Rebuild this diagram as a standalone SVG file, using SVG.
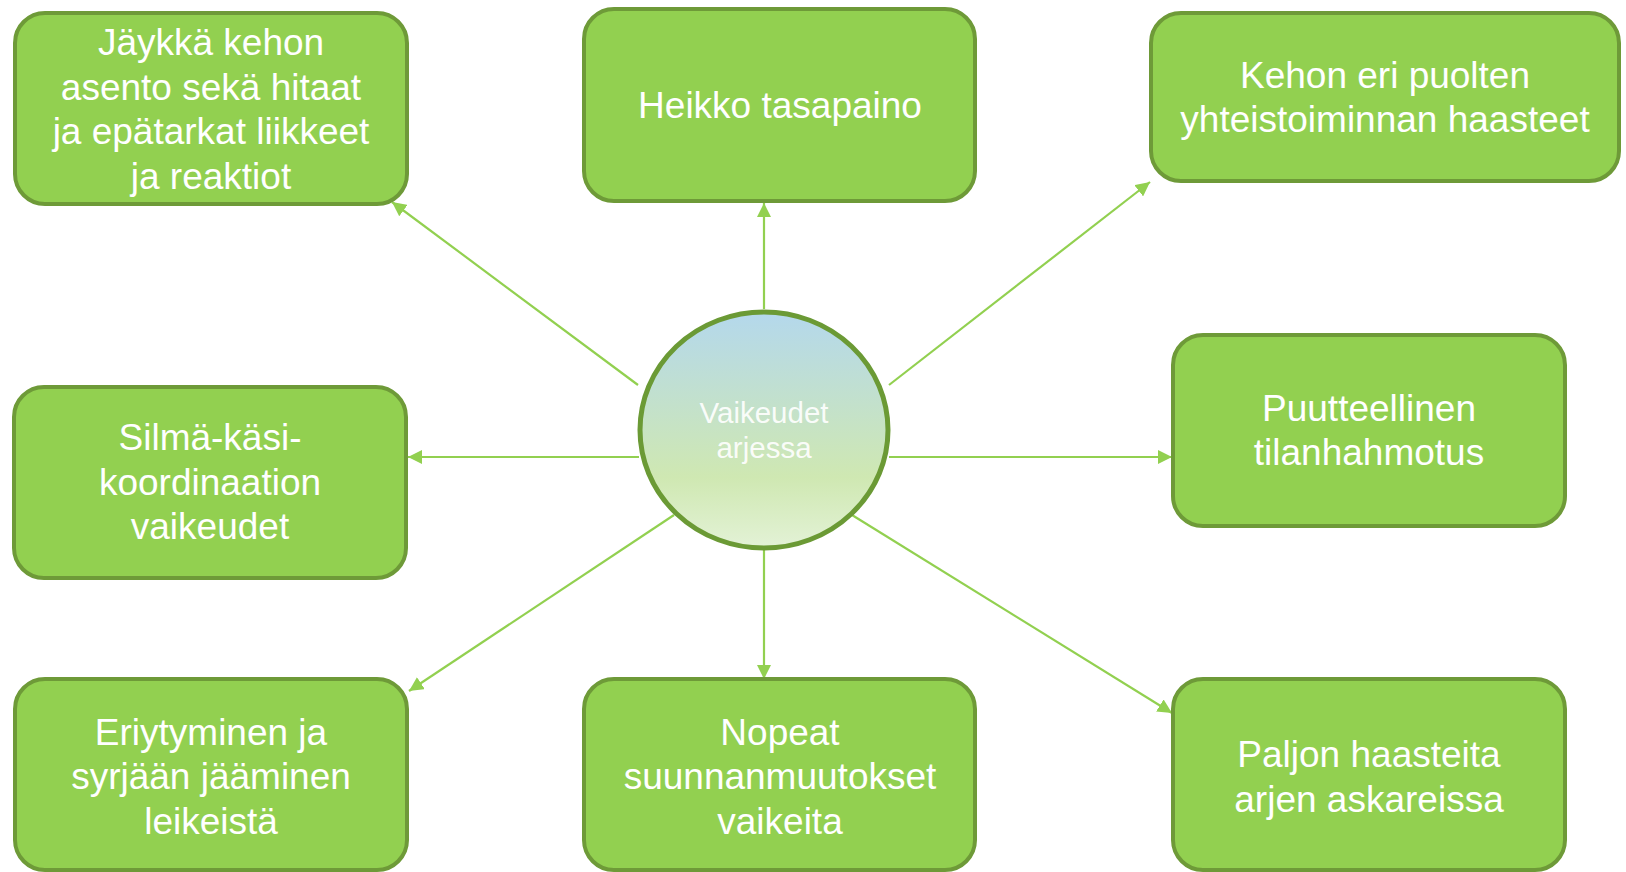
<svg xmlns="http://www.w3.org/2000/svg" width="1626" height="872" viewBox="0 0 1626 872">
<defs>
<linearGradient id="cg" x1="0" y1="0" x2="0" y2="1">
<stop offset="0" stop-color="#b4d8ec"/>
<stop offset="0.7" stop-color="#cfe8b2"/>
<stop offset="1" stop-color="#e3f2d6"/>
</linearGradient>
<marker id="ah" viewBox="0 0 10 10" refX="10" refY="5" markerWidth="6.5" markerHeight="6.5" orient="auto" markerUnits="strokeWidth">
<path d="M0,0 L10,5 L0,10 Z" fill="#92d050"/>
</marker>
</defs>
<style>
.box{fill:#92d050;stroke:#6e9a38;stroke-width:4}
.t{font-family:"Liberation Sans",Arial,sans-serif;font-size:37px;fill:#ffffff;text-anchor:middle}
.ct{font-family:"Liberation Sans",Arial,sans-serif;font-size:29.5px;fill:#ffffff;fill-opacity:0.92;text-anchor:middle}
.c{stroke:#92d050;stroke-width:2.2;fill:none;marker-end:url(#ah)}
</style>
<rect width="1626" height="872" fill="#ffffff"/>
<g id="connectors">
<line class="c" x1="638" y1="385" x2="392" y2="202"/>
<line class="c" x1="764" y1="309" x2="764" y2="203"/>
<line class="c" x1="889" y1="385" x2="1150" y2="182"/>
<line class="c" x1="639" y1="457" x2="408" y2="457"/>
<line class="c" x1="889" y1="457" x2="1172" y2="457"/>
<line class="c" x1="674" y1="515" x2="409" y2="691"/>
<line class="c" x1="764" y1="550" x2="764" y2="679"/>
<line class="c" x1="852" y1="515" x2="1172" y2="713"/>
</g>
<g id="center">
<ellipse cx="764" cy="430" rx="124" ry="118" fill="url(#cg)" stroke="#6b9a35" stroke-width="5"/>
<text class="ct" x="764" y="423">Vaikeudet</text>
<text class="ct" x="764" y="458">arjessa</text>
</g>
<g id="n1">
<rect class="box" x="15" y="13" width="392" height="191" rx="30"/>
<text class="t" x="211" y="55">Jäykkä kehon</text>
<text class="t" x="211" y="100">asento sekä hitaat</text>
<text class="t" x="211" y="144">ja epätarkat liikkeet</text>
<text class="t" x="211" y="189">ja reaktiot</text>
</g>
<g id="n2">
<rect class="box" x="584" y="9" width="391" height="192" rx="30"/>
<text class="t" x="780" y="118">Heikko tasapaino</text>
</g>
<g id="n3">
<rect class="box" x="1151" y="13" width="468" height="168" rx="30"/>
<text class="t" x="1385" y="88">Kehon eri puolten</text>
<text class="t" x="1385" y="132">yhteistoiminnan haasteet</text>
</g>
<g id="n4">
<rect class="box" x="14" y="387" width="392" height="191" rx="30"/>
<text class="t" x="210" y="450">Silmä-käsi-</text>
<text class="t" x="210" y="495">koordinaation</text>
<text class="t" x="210" y="539">vaikeudet</text>
</g>
<g id="n5">
<rect class="box" x="1173" y="335" width="392" height="191" rx="30"/>
<text class="t" x="1369" y="421">Puutteellinen</text>
<text class="t" x="1369" y="465">tilanhahmotus</text>
</g>
<g id="n6">
<rect class="box" x="15" y="679" width="392" height="191" rx="30"/>
<text class="t" x="211" y="745">Eriytyminen ja</text>
<text class="t" x="211" y="789">syrjään jääminen</text>
<text class="t" x="211" y="834">leikeistä</text>
</g>
<g id="n7">
<rect class="box" x="584" y="679" width="391" height="191" rx="30"/>
<text class="t" x="780" y="745">Nopeat</text>
<text class="t" x="780" y="789">suunnanmuutokset</text>
<text class="t" x="780" y="834">vaikeita</text>
</g>
<g id="n8">
<rect class="box" x="1173" y="679" width="392" height="191" rx="30"/>
<text class="t" x="1369" y="767">Paljon haasteita</text>
<text class="t" x="1369" y="812">arjen askareissa</text>
</g>
</svg>
